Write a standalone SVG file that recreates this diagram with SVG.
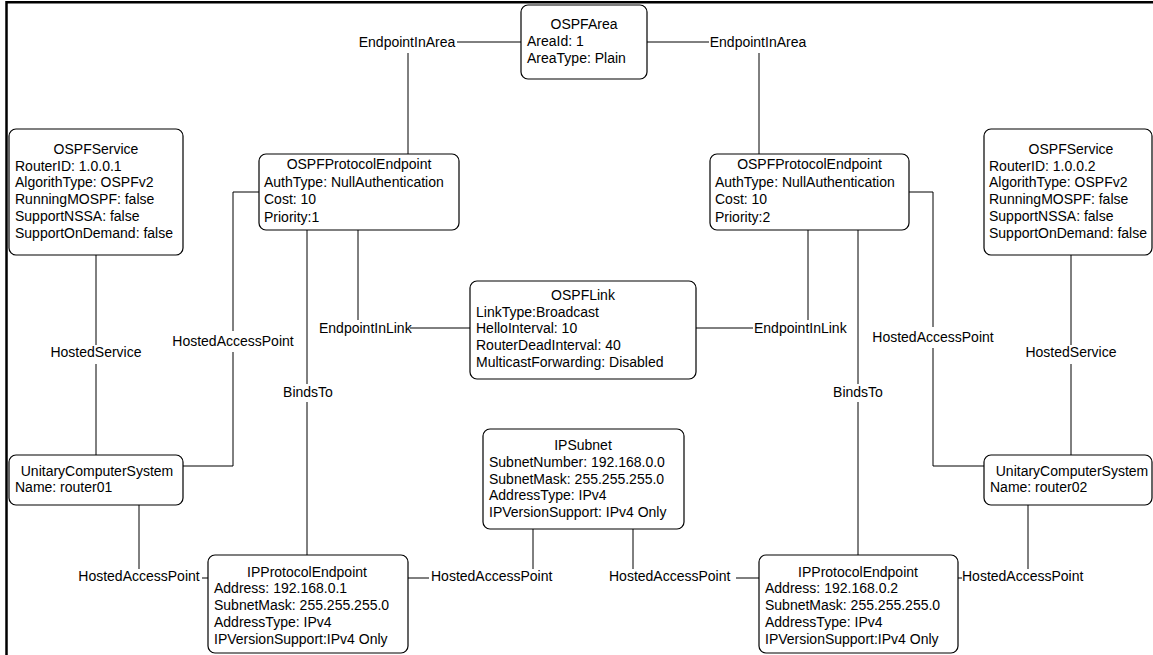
<svg xmlns="http://www.w3.org/2000/svg" width="1153" height="655" viewBox="0 0 1153 655">
  <style>
    text { font-family: "Liberation Sans", Arial, sans-serif; font-size: 14px; fill: #000; }
    .title { text-anchor: middle; }
    .lbl { text-anchor: middle; }
    .box { fill: #fff; stroke: #000; stroke-width: 1.2; }
    .conn { fill: none; stroke: #000; stroke-width: 1; }
    .frame { fill: none; stroke: #000; stroke-width: 2.5; }
  </style>

  <rect x="0" y="0" width="1153" height="655" fill="#fff"/>
  <path class="frame" d="M6.5,655 V2.2 H1153"/>

  <!-- relationships between the CIM objects -->
  <g id="connectors">
    <!-- EndpointInArea (left) -->
    <path class="conn" d="M521,42 H457 M408,53 V154"/>
    <text class="lbl" x="407" y="47">EndpointInArea</text>
    <!-- EndpointInArea (right) -->
    <path class="conn" d="M647,42 H709 M759,53 V154"/>
    <text class="lbl" x="758" y="47">EndpointInArea</text>

    <!-- HostedService (left) -->
    <path class="conn" d="M96,255 V345 M96,364 V455"/>
    <text class="lbl" x="96" y="357">HostedService</text>
    <!-- HostedService (right) -->
    <path class="conn" d="M1071,255 V345 M1071,364 V455"/>
    <text class="lbl" x="1071" y="357">HostedService</text>

    <!-- HostedAccessPoint: router01 - OSPF endpoint -->
    <path class="conn" d="M259,192 H233 V331 M233,352 V466 H183"/>
    <text class="lbl" x="233" y="346">HostedAccessPoint</text>
    <!-- HostedAccessPoint: router02 - OSPF endpoint -->
    <path class="conn" d="M909,192 H933 V327 M933,348 V466 H984"/>
    <text class="lbl" x="933" y="342">HostedAccessPoint</text>

    <!-- EndpointInLink (left) -->
    <path class="conn" d="M358,230 V320 M410,328 H470"/>
    <text x="319" y="333">EndpointInLink</text>
    <!-- EndpointInLink (right) -->
    <path class="conn" d="M696,328 H753 M808,230 V320"/>
    <text x="754" y="333">EndpointInLink</text>

    <!-- BindsTo (left) -->
    <path class="conn" d="M307,230 V384 M307,402 V555"/>
    <text class="lbl" x="308" y="397">BindsTo</text>
    <!-- BindsTo (right) -->
    <path class="conn" d="M858,230 V384 M858,402 V555"/>
    <text class="lbl" x="858" y="397">BindsTo</text>

    <!-- HostedAccessPoint: router01 - IP endpoint -->
    <path class="conn" d="M139,505 V569 M202,578 H208"/>
    <text class="lbl" x="139" y="581">HostedAccessPoint</text>
    <!-- HostedAccessPoint: subnet - IP endpoint 1 -->
    <path class="conn" d="M408,578 H429 M533,529 V569"/>
    <text x="431" y="581">HostedAccessPoint</text>
    <!-- HostedAccessPoint: subnet - IP endpoint 2 -->
    <path class="conn" d="M633,529 V569 M736,578 H759"/>
    <text x="609" y="581">HostedAccessPoint</text>
    <!-- HostedAccessPoint: router02 - IP endpoint -->
    <path class="conn" d="M958,578 H962 M1028,505 V569"/>
    <text x="962" y="581">HostedAccessPoint</text>
  </g>

  <g id="ospf-area">
    <rect class="box" x="521" y="5" width="126" height="74" rx="7"/>
    <text class="title" x="584" y="29">OSPFArea</text>
    <text x="527" y="46">AreaId: 1</text>
    <text x="527" y="63">AreaType: Plain</text>
  </g>

  <g id="ospf-service-1">
    <rect class="box" x="9" y="129" width="174" height="126" rx="7"/>
    <text class="title" x="96" y="154">OSPFService</text>
    <text x="15" y="170.7">RouterID: 1.0.0.1</text>
    <text x="15" y="187.4">AlgorithType: OSPFv2</text>
    <text x="15" y="204.1">RunningMOSPF: false</text>
    <text x="15" y="220.8">SupportNSSA: false</text>
    <text x="15" y="237.5">SupportOnDemand: false</text>
  </g>

  <g id="ospf-service-2">
    <rect class="box" x="984" y="129" width="168" height="126" rx="7"/>
    <text class="title" x="1071" y="154">OSPFService</text>
    <text x="989" y="170.7">RouterID: 1.0.0.2</text>
    <text x="989" y="187.4">AlgorithType: OSPFv2</text>
    <text x="989" y="204.1">RunningMOSPF: false</text>
    <text x="989" y="220.8">SupportNSSA: false</text>
    <text x="989" y="237.5">SupportOnDemand: false</text>
  </g>

  <g id="ospf-endpoint-1">
    <rect class="box" x="259" y="154" width="200" height="76" rx="7"/>
    <text class="title" x="359" y="169">OSPFProtocolEndpoint</text>
    <text x="264" y="186.5">AuthType: NullAuthentication</text>
    <text x="264" y="204">Cost: 10</text>
    <text x="264" y="221.5">Priority:1</text>
  </g>

  <g id="ospf-endpoint-2">
    <rect class="box" x="710" y="154" width="199" height="76" rx="7"/>
    <text class="title" x="809.5" y="169">OSPFProtocolEndpoint</text>
    <text x="715" y="186.5">AuthType: NullAuthentication</text>
    <text x="715" y="204">Cost: 10</text>
    <text x="715" y="221.5">Priority:2</text>
  </g>

  <g id="ospf-link">
    <rect class="box" x="470" y="281" width="226" height="98" rx="7"/>
    <text class="title" x="583" y="300">OSPFLink</text>
    <text x="476" y="316.7">LinkType:Broadcast</text>
    <text x="476" y="333.4">HelloInterval: 10</text>
    <text x="476" y="350.1">RouterDeadInterval: 40</text>
    <text x="476" y="366.8">MulticastForwarding: Disabled</text>
  </g>

  <g id="ip-subnet">
    <rect class="box" x="483" y="429" width="201" height="100" rx="7"/>
    <text class="title" x="583" y="449.5">IPSubnet</text>
    <text x="489" y="467">SubnetNumber: 192.168.0.0</text>
    <text x="489" y="483.7">SubnetMask: 255.255.255.0</text>
    <text x="489" y="500.4">AddressType: IPv4</text>
    <text x="489" y="517.1">IPVersionSupport: IPv4 Only</text>
  </g>

  <g id="computer-system-1">
    <rect class="box" x="9" y="455" width="174" height="50" rx="7"/>
    <text class="title" x="97" y="475.5">UnitaryComputerSystem</text>
    <text x="15" y="492.2">Name: router01</text>
  </g>

  <g id="computer-system-2">
    <rect class="box" x="984" y="455" width="168" height="50" rx="7"/>
    <text class="title" x="1072" y="475.5">UnitaryComputerSystem</text>
    <text x="990" y="492.2">Name: router02</text>
  </g>

  <g id="ip-endpoint-1">
    <rect class="box" x="208" y="555" width="200" height="98" rx="7"/>
    <text class="title" x="307" y="576.7">IPProtocolEndpoint</text>
    <text x="214" y="593.4">Address: 192.168.0.1</text>
    <text x="214" y="610.1">SubnetMask: 255.255.255.0</text>
    <text x="214" y="626.8">AddressType: IPv4</text>
    <text x="214" y="643.5">IPVersionSupport:IPv4 Only</text>
  </g>

  <g id="ip-endpoint-2">
    <rect class="box" x="759" y="555" width="199" height="98" rx="7"/>
    <text class="title" x="858" y="576.7">IPProtocolEndpoint</text>
    <text x="765" y="593.4">Address: 192.168.0.2</text>
    <text x="765" y="610.1">SubnetMask: 255.255.255.0</text>
    <text x="765" y="626.8">AddressType: IPv4</text>
    <text x="765" y="643.5">IPVersionSupport:IPv4 Only</text>
  </g>
</svg>
